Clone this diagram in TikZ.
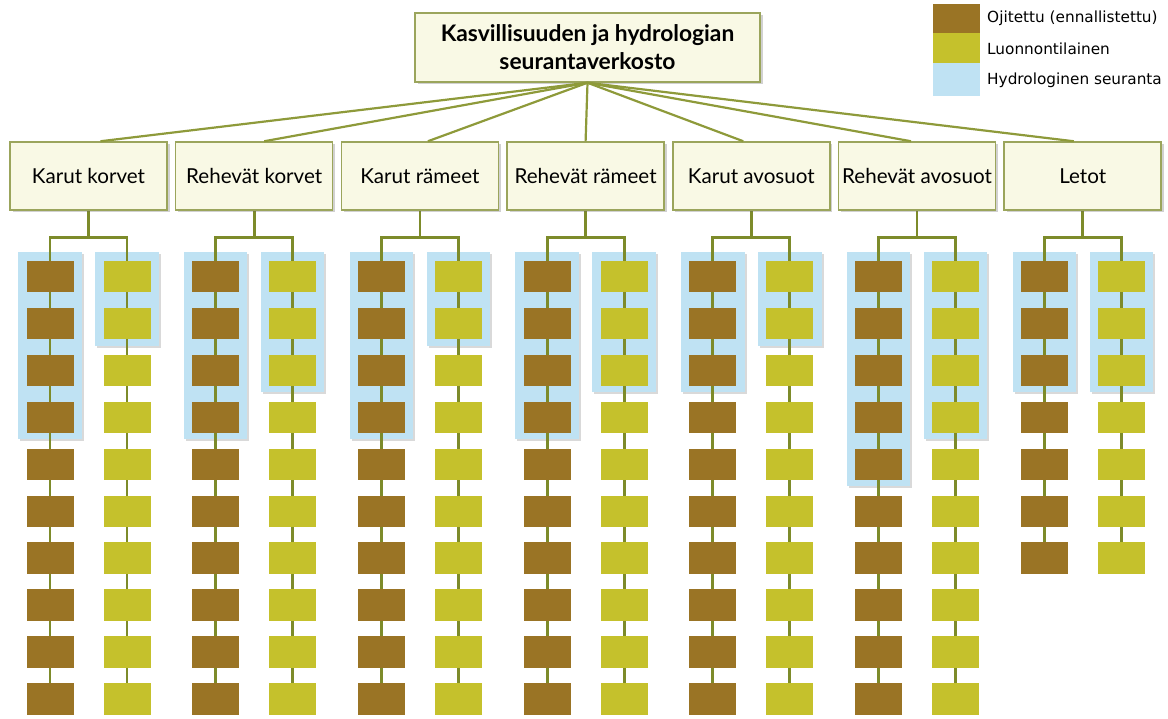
\documentclass[tikz,border=0pt]{standalone}
\usepackage{fontspec}
\setmainfont{Lato}
\newfontfamily\legendfont{DejaVu Sans}
\usetikzlibrary{shadows}
\definecolor{brownsq}{HTML}{9A7425}
\definecolor{yellowsq}{HTML}{C5C12C}
\definecolor{hydroblue}{HTML}{BFE2F3}
\definecolor{linkol}{HTML}{7D8B2A}
\definecolor{toplink}{HTML}{8E9A3A}
\definecolor{boxfill}{HTML}{F9F9E5}
\definecolor{boxedge}{HTML}{9BA55C}
\pgfdeclarelayer{bg}
\pgfdeclarelayer{mid}
\pgfsetlayers{bg,mid,main}
\tikzset{
  softshadow/.style={drop shadow={shadow xshift=2.5pt,shadow yshift=-2.5pt,opacity=0.3,fill=black!60}},
  catbox/.style={draw=boxedge,line width=1.5pt,fill=boxfill,minimum width=157pt,minimum height=68pt,inner sep=0pt,font=\fontsize{20.6}{24}\selectfont,softshadow},
  titlebox/.style={draw=boxedge,line width=1.5pt,fill=boxfill,minimum width=345pt,minimum height=69pt,inner sep=0pt,align=center,font=\bfseries\fontsize{22.8}{28}\selectfont,softshadow},
  sqb/.style={fill=brownsq,minimum width=47pt,minimum height=31.5pt,inner sep=0pt},
  sqy/.style={fill=yellowsq,minimum width=47pt,minimum height=31.5pt,inner sep=0pt},
  hydro/.style={fill=hydroblue,drop shadow={shadow xshift=2pt,shadow yshift=-2pt,opacity=0.25,fill=black!60}},
  toplinkline/.style={draw=toplink,line width=2.2pt},
  sublink/.style={draw=linkol,line width=2.8pt},
  legtext/.style={anchor=west,font=\legendfont\fontsize{15.3}{17}\selectfont,inner sep=0pt}
}
\begin{document}
\begin{tikzpicture}[x=1pt,y=-1pt]
\useasboundingbox (0,0) rectangle (1168,719);
% title
\node[titlebox] (title) at (587.5,47.5) {Kasvillisuuden ja hydrologian\\seurantaverkosto};
% legend
\node[fill=brownsq,minimum width=47pt,minimum height=29pt,inner sep=0pt] (lb) at (956.5,18.5) {};
\node[fill=yellowsq,minimum width=47pt,minimum height=30pt,inner sep=0pt] (ly) at (956.5,48) {};
\node[fill=hydroblue,minimum width=47pt,minimum height=33pt,inner sep=0pt] (lh) at (956.5,79.5) {};
\node[legtext] (lbt) at (987,18) {Ojitettu (ennallistettu)};
\node[legtext] (lyt) at (987,49) {Luonnontilainen};
\node[legtext] (lht) at (987,80) {Hydrologinen seuranta};
% categories
\foreach \i/\cx/\name/\n/\kb/\ky/\off in {
  0/88.5/Karut korvet/10/4/2/12,
  1/254.2/Rehevät korvet/10/4/3/10,
  2/419.9/Karut rämeet/10/4/2/8,
  3/585.6/Rehevät rämeet/10/4/3/0,
  4/751.3/Karut avosuot/10/3/2/-8,
  5/917/Rehevät avosuot/10/5/4/-6,
  6/1082.7/Letot/7/3/3/-9}{
  \node[catbox] (c\i) at (\cx,176) {\name};
  \draw[toplinkline] (title.south) -- ([xshift=\off pt]c\i.north);
  \foreach \r in {1,...,\n}{
    \node[sqb] (b\i-\r) at ({\cx-38.5},{276.75+(\r-1)*46.9}) {};
    \node[sqy] (y\i-\r) at ({\cx+38.5},{276.75+(\r-1)*46.9}) {};
  }
  \begin{pgfonlayer}{mid}
    \draw[sublink] (c\i.south) -- ++(0,27) -| (b\i-1.center);
    \draw[sublink] (c\i.south) ++(0,27) -| (y\i-1.center);
    \draw[sublink] (b\i-1.center) -- (b\i-\n.center);
    \draw[sublink] (y\i-1.center) -- (y\i-\n.center);
  \end{pgfonlayer}
  \begin{pgfonlayer}{bg}
    \path[hydro] ([xshift=-8pt,yshift=9pt]b\i-1.north west) rectangle ([xshift=8pt,yshift=-6pt]b\i-\kb.south east);
    \path[hydro] ([xshift=-8pt,yshift=9pt]y\i-1.north west) rectangle ([xshift=8pt,yshift=-6pt]y\i-\ky.south east);
  \end{pgfonlayer}
}
\end{tikzpicture}
\end{document}
